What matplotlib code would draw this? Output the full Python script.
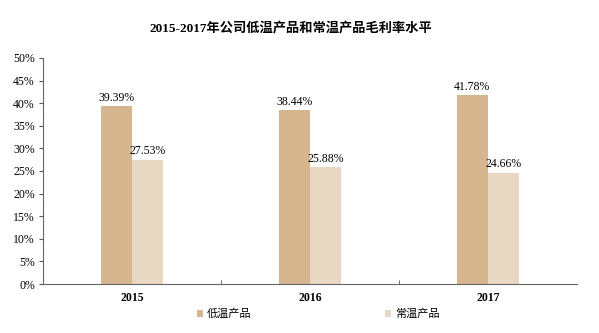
import numpy as np
import matplotlib
matplotlib.use('Agg')
import matplotlib.pyplot as plt
from matplotlib.ticker import PercentFormatter, FixedLocator

plt.rcParams['font.family'] = ['Liberation Serif', 'Noto Sans CJK SC']

years = ['2015', '2016', '2017']
low_temp = [39.39, 38.44, 41.78]
ambient = [27.53, 25.88, 24.66]
series_names = ['低温产品', '常温产品']

low_color = '#D5B68E'
amb_color = '#E8D7C3'

fig = plt.figure(figsize=(5.99, 3.33), dpi=100)
ax = fig.add_axes([0.072, 0.147, 0.891, 0.679])

x = np.arange(len(years))
w = 0.175
b1 = ax.bar(x - w / 2, low_temp, w, color=low_color, label=series_names[0])
b2 = ax.bar(x + w / 2, ambient, w, color=amb_color, label=series_names[1])

for bars, vals in ((b1, low_temp), (b2, ambient)):
    for rect, v in zip(bars, vals):
        ax.text(rect.get_x() + rect.get_width() / 2, v + 0.5, f'{v:.2f}%',
                ha='center', va='bottom', fontsize=8.5)

ax.set_xlim(-0.5, len(years) - 0.5)
ax.set_ylim(0, 50)
ax.set_yticks(np.arange(0, 51, 5))
ax.yaxis.set_major_formatter(PercentFormatter(decimals=0))
ax.set_xticks(x)
ax.set_xticklabels(years, fontweight='bold')
ax.xaxis.set_minor_locator(FixedLocator([0.5, 1.5]))
ax.tick_params(axis='x', which='major', length=0, pad=6, labelsize=8.5)
ax.tick_params(axis='x', which='minor', length=3, direction='in', color='#555555')
ax.tick_params(axis='y', length=3, direction='out', labelsize=8.5, color='#555555', pad=3)

for s in ('top', 'right'):
    ax.spines[s].set_visible(False)
for s in ('left', 'bottom'):
    ax.spines[s].set_color('#666666')
    ax.spines[s].set_linewidth(0.8)

fig.text(0.486, 0.916, '2015-2017年公司低温产品和常温产品毛利率水平',
         ha='center', va='center', fontsize=9.5, fontweight='bold')

ax.legend(loc='upper center', bbox_to_anchor=(0.515, -0.065), ncol=2, frameon=False,
          handlelength=0.6, handleheight=0.6, handletextpad=0.3,
          columnspacing=12, prop={'family': ['Noto Sans CJK SC'], 'size': 8})

fig.savefig('out.png', dpi=100)
